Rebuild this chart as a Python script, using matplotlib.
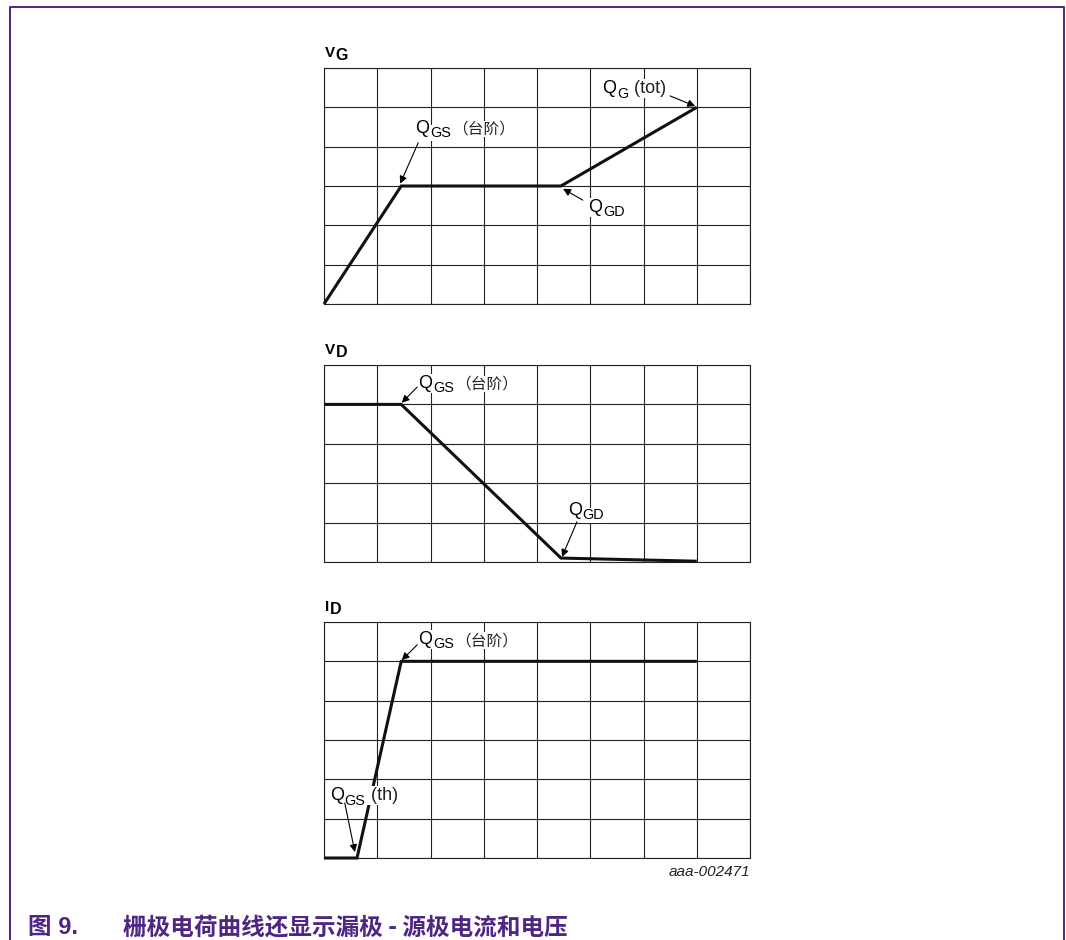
import matplotlib.pyplot as plt
from matplotlib.lines import Line2D

plt.rcParams["font.family"] = ["Liberation Sans", "Noto Sans CJK SC", "DejaVu Sans"]

# grid of every panel: 8 columns, rows differ
n_cols = 8
panel_rows = [6, 5, 6]
panel_names = [("V", "G"), ("V", "D"), ("I", "D")]

# curves, in grid units (x = charge, y = level)
vg_x = [0, 1.45, 4.45, 7.0]
vg_y = [0, 3.0, 3.0, 5.0]
vd_x = [0, 1.45, 4.45, 7.0]
vd_y = [4.0, 4.0, 0.1, 0.02]
id_x = [0, 0.62, 1.45, 7.0]
id_y = [0, 0, 5.0, 5.0]
curves = [(vg_x, vg_y), (vd_x, vd_y), (id_x, id_y)]

# annotations: panel, text pos, main, sub, rest, arrow tail, arrow tip
notes = [
    (0, (1.72, 4.36), "Q", "GS", "（台阶）", (1.77, 4.10), (1.43, 3.06)),
    (0, (5.22, 5.36), "Q", "G", " (tot)", (6.50, 5.29), (6.97, 5.03)),
    (0, (4.96, 2.34), "Q", "GD", "", (4.86, 2.64), (4.49, 2.93)),
    (1, (1.77, 4.42), "Q", "GS", "（台阶）", (1.75, 4.44), (1.46, 4.04)),
    (1, (4.58, 1.19), "Q", "GD", "", (4.75, 1.02), (4.47, 0.13)),
    (2, (1.77, 5.44), "Q", "GS", "（台阶）", (1.75, 5.42), (1.46, 5.03)),
    (2, (0.11, 1.47), "Q", "GS", " (th)", (0.39, 1.40), (0.58, 0.15)),
]

fig_code = "aaa-002471"
caption_num = "图 9."
caption_text = "栅极电荷曲线还显示漏极 - 源极电流和电压"
purple = "#4f2683"

fig = plt.figure(figsize=(10.66, 9.40), dpi=100)
W, H = 1066, 940

# axes boxes in pixels: left, top, right, bottom
boxes = [(324, 68, 750, 304), (324, 365, 750, 562), (324, 622, 750, 858)]
axes = []
for (l, t, r, b) in boxes:
    ax = fig.add_axes([l / W, 1 - b / H, (r - l) / W, (b - t) / H])
    axes.append(ax)


def sub_label(ax, xy, main, sub, rest="", size=13, weight="normal",
              coords="data", bg=True, sub_size=None, drop=-2.4, offset=(0, 0)):
    bb = dict(facecolor="white", edgecolor="none", pad=0.5) if bg else None
    if sub_size is None:
        sub_size = size * 0.8
    t1 = ax.annotate(main, xy, xycoords=coords, xytext=offset,
                     textcoords="offset points", fontsize=size, weight=weight,
                     va="baseline", ha="left", bbox=bb, zorder=5,
                     annotation_clip=False)
    t2 = ax.annotate(sub, xy=(1, 0), xycoords=t1, xytext=(0.6, drop),
                     textcoords="offset points", fontsize=sub_size, weight=weight,
                     va="bottom", ha="left", bbox=bb, zorder=5)
    if rest:
        # CJK part is set a little smaller, like the original
        rsize = size * 0.87 if rest.startswith("（") else size
        ax.annotate(rest, xy=(1, 0), xycoords=(t2, t1), xytext=(0.6, 0),
                    textcoords="offset points", fontsize=rsize, weight=weight,
                    va="bottom", ha="left", bbox=bb, zorder=5, color="#222222")


for i, ax in enumerate(axes):
    rows = panel_rows[i]
    ax.set_xlim(0, n_cols)
    ax.set_ylim(0, rows)
    ax.set_xticks(range(n_cols + 1))
    ax.set_yticks(range(rows + 1))
    ax.tick_params(length=0, labelbottom=False, labelleft=False)
    ax.grid(True, color="#222222", lw=0.8)
    for s in ax.spines.values():
        s.set_linewidth(0.8)
        s.set_color("#222222")
    cx, cy = curves[i]
    ax.plot(cx, cy, color="#111111", lw=2.2, solid_capstyle="butt",
            solid_joinstyle="miter", clip_on=False, zorder=4)
    big, small = panel_names[i]
    sub_label(ax, (0.0, 1.0), big, small, size=11, sub_size=11.5,
              weight="bold", coords="axes fraction", bg=False, drop=-2.0,
              offset=(0.5, 8))

for (p, pos, main, sub, rest, tail, tip) in notes:
    ax = axes[p]
    sub_label(ax, pos, main, sub, rest)
    ax.annotate("", xy=tip, xytext=tail,
                arrowprops=dict(arrowstyle="-|>", lw=0.8, color="black",
                                mutation_scale=11, shrinkA=0, shrinkB=0),
                zorder=6)

axes[2].text(1.0, -0.03, fig_code, transform=axes[2].transAxes, ha="right",
             va="top", fontsize=11, style="italic", color="#222222")

# page frame, open at the bottom
fig.add_artist(Line2D([10 / W, 10 / W, 1064 / W, 1064 / W],
                      [0, 1 - 7 / H, 1 - 7 / H, 0], color=purple, lw=1.4))

fig.text(28 / W, 1 - 927 / H, caption_num, color=purple, fontsize=17,
         weight="bold", va="center", ha="left",
         family=["Liberation Sans", "Noto Sans CJK SC"])
fig.text(123 / W, 1 - 927 / H, caption_text, color=purple, fontsize=17,
         weight="bold", va="center", ha="left",
         family=["Noto Sans CJK SC", "Liberation Sans"])

plt.savefig("out.png", dpi=100)
